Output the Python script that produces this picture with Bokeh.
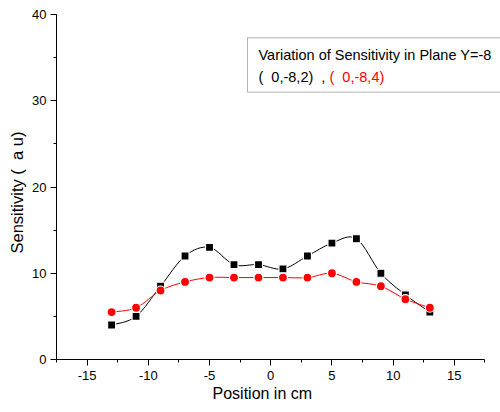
import numpy as np
from bokeh.plotting import figure
from bokeh.models import Range1d, SingleIntervalTicker, Label, BoxAnnotation, Title, CustomJSTickFormatter
from bokeh.embed import file_html
from bokeh.resources import INLINE

positions = [-13, -11, -9, -7, -5, -3, -1, 1, 3, 5, 7, 9, 11, 13]
sens_z2 = [4.0, 5.0, 8.5, 12.0, 13.0, 11.0, 11.0, 10.5, 12.0, 13.5, 14.0, 10.0, 7.5, 5.5]
sens_z4 = [5.5, 6.0, 8.0, 9.0, 9.5, 9.5, 9.5, 9.5, 9.5, 10.0, 9.0, 8.5, 7.0, 6.0]
x_ticks_interval = 5
y_ticks_interval = 10

FONT = "Liberation Sans"

p = figure(width=500, height=412, output_backend="svg", toolbar_location=None,
           x_range=Range1d(-17.5, 18.77), y_range=Range1d(0, 40),
           min_border_left=56, min_border_right=0, min_border_top=14, min_border_bottom=53)
p.outline_line_color = None
p.xgrid.visible = False
p.ygrid.visible = False
p.background_fill_color = "white"
p.border_fill_color = "white"


def spline_segments(xs, ys):
    xs = np.asarray(xs, float)
    ys = np.asarray(ys, float)
    n = len(xs)
    xp = np.concatenate([[xs[0]], xs, [xs[-1]]])
    yp = np.concatenate([[ys[0]], ys, [ys[-1]]])
    x0 = xs[:-1]; y0 = ys[:-1]; x1 = xs[1:]; y1 = ys[1:]
    cx0 = x0 + (xp[2:n + 1] - xp[0:n - 1]) / 6.0
    cy0 = y0 + (yp[2:n + 1] - yp[0:n - 1]) / 6.0
    cx1 = x1 - (xp[3:n + 2] - xp[1:n]) / 6.0
    cy1 = y1 - (yp[3:n + 2] - yp[1:n]) / 6.0
    return dict(x0=x0, y0=y0, x1=x1, y1=y1, cx0=cx0, cy0=cy0, cx1=cx1, cy1=cy1)


s1 = spline_segments(positions, sens_z2)
p.bezier(x0=s1["x0"], y0=s1["y0"], x1=s1["x1"], y1=s1["y1"], cx0=s1["cx0"], cy0=s1["cy0"],
         cx1=s1["cx1"], cy1=s1["cy1"], line_color="black", line_width=1)
s2 = spline_segments(positions, sens_z4)
p.bezier(x0=s2["x0"], y0=s2["y0"], x1=s2["x1"], y1=s2["y1"], cx0=s2["cx0"], cy0=s2["cy0"],
         cx1=s2["cx1"], cy1=s2["cy1"], line_color="red", line_width=1)

p.scatter(positions, sens_z2, marker="square", size=8, fill_color="black",
          line_color="white", line_width=1.2)
p.scatter(positions, sens_z4, marker="circle", size=9, fill_color="red",
          line_color="white", line_width=1.2)

# axes
p.xaxis.ticker = SingleIntervalTicker(interval=x_ticks_interval, num_minor_ticks=2)
p.yaxis.ticker = SingleIntervalTicker(interval=y_ticks_interval, num_minor_ticks=2)
p.xaxis.formatter = CustomJSTickFormatter(code="return tick.toString();")
p.yaxis.formatter = CustomJSTickFormatter(code="return tick.toString();")
p.xaxis.bounds = (-17.5, 17.5)
p.yaxis.bounds = (0, 40)
for ax in (p.xaxis[0], p.yaxis[0]):
    ax.axis_line_color = "black"
    ax.axis_line_width = 1
    ax.major_tick_line_color = "black"
    ax.minor_tick_line_color = "black"
    ax.major_tick_in = 0
    ax.major_tick_out = 6
    ax.minor_tick_in = 0
    ax.minor_tick_out = 3
    ax.major_label_text_font = FONT
    ax.major_label_text_font_size = "13px"
    ax.major_label_text_color = "black"
p.xaxis.major_label_standoff = 5
p.yaxis.major_label_standoff = 4

# axis titles
p.add_layout(Title(text="Position in cm", align="left", offset=156, standoff=1,
                   text_font=FONT, text_font_size="16px", text_font_style="normal",
                   text_color="black"), "below")
p.add_layout(Title(text="Sensitivity (\u00a0\u00a0a u)", align="left", offset=106, standoff=7,
                   text_font=FONT, text_font_size="16.5px", text_font_style="normal",
                   text_color="black"), "left")

# legend-style box
p.add_layout(BoxAnnotation(left=-1.9, right=30, top=37.3, bottom=31.0,
                           fill_color="white", fill_alpha=1.0, line_color="black", line_width=1))
p.add_layout(Label(x=-1.0, y=35.36, text="Variation of Sensitivity in Plane Y=-8",
                   text_font=FONT, text_font_size="14.5px", text_baseline="middle", text_color="black"))
p.add_layout(Label(x=-1.0, y=32.75, text="(\u00a0\u00a00,-8,2)\u00a0\u00a0,",
                   text_font=FONT, text_font_size="14.5px", text_baseline="middle", text_color="black"))
p.add_layout(Label(x=4.8, y=32.75, text="(\u00a0\u00a00,-8,4)",
                   text_font=FONT, text_font_size="14.5px", text_baseline="middle", text_color="red"))

open("out.html", "w").write(file_html(p, INLINE))
